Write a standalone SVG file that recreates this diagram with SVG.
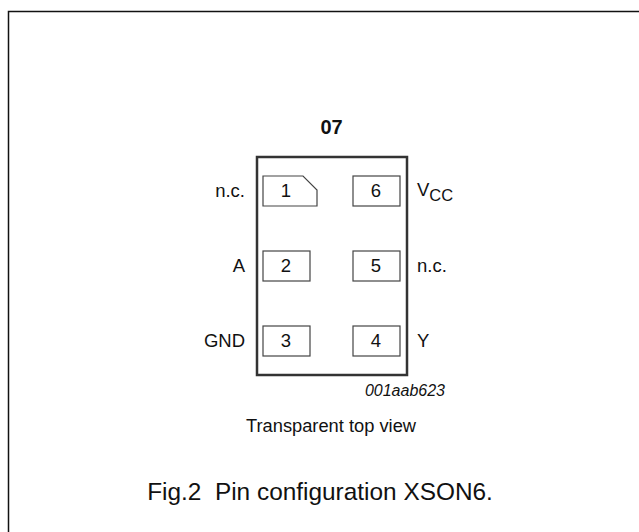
<svg xmlns="http://www.w3.org/2000/svg" width="639" height="532" viewBox="0 0 639 532">
<style>
text{font-family:"Liberation Sans",Arial,sans-serif;fill:#111;font-size:18.5px}
.m{text-anchor:middle}
.e{text-anchor:end}
.pin{fill:#fff;stroke:#444;stroke-width:1.2}
</style>
<rect width="639" height="532" fill="#fff"/>
<g id="frame"><path d="M8.500 532V11.500H639" fill="none" stroke="#111" stroke-width="1.500"/></g>
<g id="connectors"/>
<g id="package"><rect x="257" y="157" width="150" height="218" fill="#fff" stroke="#333" stroke-width="2.500"/></g>
<text x="331.500" y="134" class="m" style="font-weight:bold;font-size:20px">07</text>
<g id="pin1"><path class="pin" d="M263 176H303L317 190V206H263Z"/><text x="286" y="197" class="m">1</text><text x="245" y="197" class="e">n.c.</text></g>
<g id="pin2"><rect class="pin" x="263" y="251" width="47" height="30"/><text x="286" y="272" class="m">2</text><text x="245" y="272" class="e">A</text></g>
<g id="pin3"><rect class="pin" x="263" y="326" width="47" height="30"/><text x="286" y="347" class="m">3</text><text x="245" y="347" class="e">GND</text></g>
<g id="pin4"><rect class="pin" x="353" y="326" width="47" height="30"/><text x="376" y="347" class="m">4</text><text x="417" y="347">Y</text></g>
<g id="pin5"><rect class="pin" x="353" y="251" width="47" height="30"/><text x="376" y="272" class="m">5</text><text x="417" y="272">n.c.</text></g>
<g id="pin6"><rect class="pin" x="353" y="176" width="47" height="30"/><text x="376" y="197" class="m">6</text><text x="417" y="196">V<tspan dy="5" style="font-size:16.500px">CC</tspan></text></g>
<text x="445" y="396" class="e" style="font-style:italic;font-size:16px">001aab623</text>
<text x="331" y="432" class="m" style="font-size:18.300px">Transparent top view</text>
<text x="320" y="500" class="m" xml:space="preserve" style="font-size:24.400px">Fig.2  Pin configuration XSON6.</text>
</svg>
